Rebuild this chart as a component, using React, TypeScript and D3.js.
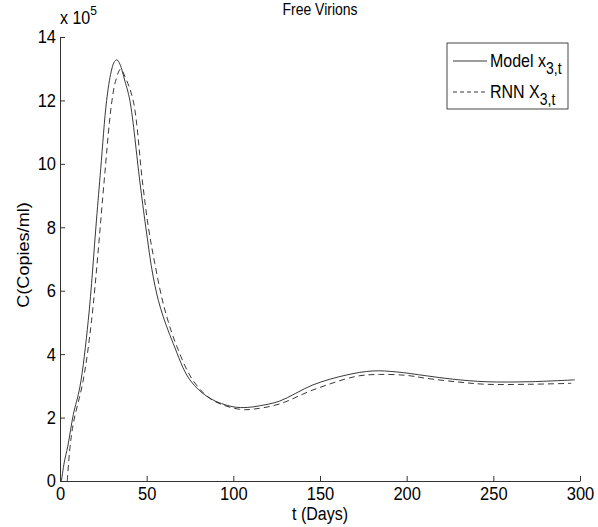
import React, { useEffect, useRef } from "react";
import * as d3 from "d3";

// values in units of 1e5 copies/ml
const modelT = [0.8, 2.5, 4.5, 7.7, 11.5, 16.3, 21, 23.5, 26.9, 29.5, 31.2, 32.8, 34.5, 37.5, 40.3, 46, 49.5, 53.8, 58, 65.3, 74.9, 86.4, 99.8, 108, 115, 126.7, 145.9, 165.1, 180.5, 194, 211, 226.6, 245.8, 270.7, 297];
const modelV = [0, 0.6, 1.1, 2.1, 2.97, 5.06, 8.2, 9.85, 12.0, 12.9, 13.2, 13.28, 13.15, 12.6, 12.0, 9.47, 8.0, 6.43, 5.45, 4.34, 3.19, 2.61, 2.34, 2.32, 2.37, 2.52, 3.03, 3.34, 3.47, 3.44, 3.32, 3.21, 3.13, 3.13, 3.19];

const rnnT = [4.2, 5.8, 7.7, 13.4, 18.2, 25.5, 28.5, 30, 32, 35, 37.5, 42.2, 47.5, 51, 54.7, 60, 67, 77, 88, 103.7, 112, 126.7, 145.9, 170.9, 184.3, 200, 211, 230, 245.8, 270.7, 295];
const rnnV = [0, 1.08, 1.82, 3.18, 5.06, 9.47, 11.3, 12.0, 12.6, 12.99, 12.75, 12.0, 9.47, 8.0, 6.86, 5.5, 4.3, 3.15, 2.55, 2.26, 2.27, 2.43, 2.87, 3.3, 3.36, 3.33, 3.24, 3.12, 3.05, 3.05, 3.08];

const xTicks = [0, 50, 100, 150, 200, 250, 300];
const yTicks = [0, 2, 4, 6, 8, 10, 12, 14];

const font = "Arial, 'Liberation Sans', Helvetica, sans-serif";
const stretch = "scale(1,1.13)"; // the reference text is a bit tall

const App = () => {
  const ref = useRef<SVGSVGElement>(null);

  useEffect(() => {
    const svg = d3.select(ref.current);
    svg.selectAll("*").remove();

    const x = d3.scaleLinear().domain([0, 300]).range([60, 580]);
    const y = d3.scaleLinear().domain([0, 14]).range([481, 37]);

    const xAxis = svg.append("g")
      .attr("transform", `translate(0, ${y(0)})`)
      .call(d3.axisBottom(x).tickValues(xTicks).tickSizeInner(-5).tickSizeOuter(0).tickPadding(5));
    const yAxis = svg.append("g")
      .attr("transform", `translate(${x(0)}, 0)`)
      .call(d3.axisLeft(y).tickValues(yTicks).tickSizeInner(-5).tickSizeOuter(0).tickPadding(4));

    [xAxis, yAxis].forEach((g) => {
      g.selectAll("path, line").attr("stroke", "#333");
      g.selectAll("text")
        .attr("fill", "#000")
        .attr("transform", stretch)
        .style("font-family", font)
        .style("font-size", "16.5px");
    });

    const line = d3.line<[number, number]>()
      .x((d) => x(d[0]))
      .y((d) => y(d[1]))
      .curve(d3.curveCatmullRom.alpha(0.5));

    const model = modelT.map((t, i) => [t, modelV[i]] as [number, number]);
    const rnn = rnnT.map((t, i) => [t, rnnV[i]] as [number, number]);

    svg.append("path")
      .attr("d", line(model))
      .attr("fill", "none")
      .attr("stroke", "#222")
      .attr("stroke-width", 0.9);
    svg.append("path")
      .attr("d", line(rnn))
      .attr("fill", "none")
      .attr("stroke", "#222")
      .attr("stroke-width", 0.9)
      .attr("stroke-dasharray", "6,4");

    // title and labels
    svg.append("text")
      .attr("transform", `translate(320, 15) ${stretch}`)
      .attr("text-anchor", "middle")
      .style("font-family", font).style("font-size", "14px")
      .text("Free Virions");

    const exp = svg.append("text")
      .attr("transform", `translate(60, 24) ${stretch}`)
      .style("font-family", font).style("font-size", "16px");
    exp.append("tspan").text("x 10");
    exp.append("tspan").attr("dy", -8).style("font-size", "12px").text("5");

    svg.append("text")
      .attr("transform", `translate(29, 255) ${stretch} rotate(-90)`)
      .attr("text-anchor", "middle")
      .style("font-family", font).style("font-size", "16px")
      .text("C(Copies/ml)");

    svg.append("text")
      .attr("transform", `translate(320, 520) ${stretch}`)
      .attr("text-anchor", "middle")
      .style("font-family", font).style("font-size", "16px")
      .text("t (Days)");

    // legend
    const lg = svg.append("g");
    lg.append("rect")
      .attr("x", 447).attr("y", 43).attr("width", 121).attr("height", 66)
      .attr("fill", "#fff").attr("stroke", "#333").attr("stroke-width", 0.9);
    const rows = [
      { y: 61, dash: null, main: "Model x", sub: "3,t" },
      { y: 92, dash: "4,3", main: "RNN X", sub: "3,t" },
    ];
    rows.forEach((r) => {
      lg.append("line")
        .attr("x1", 453).attr("x2", 487).attr("y1", r.y).attr("y2", r.y)
        .attr("stroke", "#222").attr("stroke-width", 0.9)
        .attr("stroke-dasharray", r.dash);
      const t = lg.append("text")
        .attr("transform", `translate(490, ${r.y + 6}) ${stretch}`)
        .style("font-family", font).style("font-size", "16px");
      t.append("tspan").text(r.main);
      t.append("tspan").attr("dy", 6).style("font-size", "14px").text(r.sub);
    });
  }, []);

  return (
    <svg ref={ref} width={598} height={527} style={{ display: "block", position: "absolute", left: 0, top: 0, background: "#fff" }} />
  );
};

export default App;
